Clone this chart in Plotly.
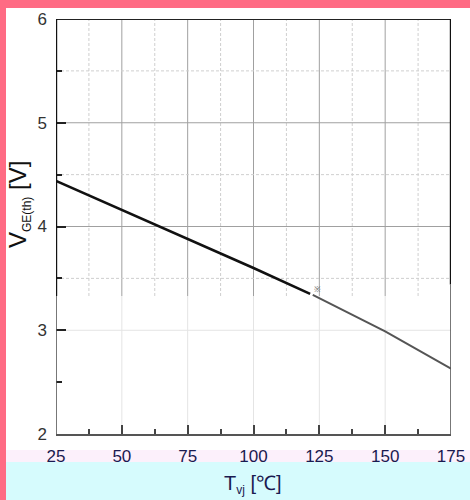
import plotly.graph_objects as go

# ---- data ----
temp_black = [25, 50, 75, 100, 121.5]
vge_black = [4.44, 4.16, 3.88, 3.60, 3.35]
temp_gray = [122.5, 150, 175]
vge_gray = [3.34, 2.99, 2.63]

x_major = [50, 75, 100, 125, 150]
x_minor = [37.5, 62.5, 87.5, 112.5, 137.5, 162.5]
y_major_upper = [4, 5]
y_major_lower = [3]
y_minor_upper = [3.5, 4.5, 5.5]
split_v = 3.33

W, H = 470, 500
L, R, T, B = 56, 19, 19, 66
pw, ph = W - L - R, H - T - B


def px_x(p):
    return (p - L) / pw


def px_y(p):
    return (H - B - p) / ph


fig = go.Figure()
fig.add_trace(go.Scatter(x=temp_black, y=vge_black, mode="lines",
                         line=dict(color="#111111", width=2.6), showlegend=False))
fig.add_trace(go.Scatter(x=temp_gray, y=vge_gray, mode="lines",
                         line=dict(color="#555555", width=2), showlegend=False))

shapes = []
# background bands
shapes.append(dict(type="rect", xref="paper", yref="paper", x0=px_x(0), x1=px_x(W),
                   y0=px_y(0), y1=px_y(8), fillcolor="#FF6B84", line_width=0, layer="below"))
shapes.append(dict(type="rect", xref="paper", yref="paper", x0=px_x(0), x1=px_x(6),
                   y0=px_y(0), y1=px_y(H), fillcolor="#FF6B84", line_width=0, layer="below"))
shapes.append(dict(type="rect", xref="paper", yref="paper", x0=px_x(6), x1=px_x(W),
                   y0=px_y(450), y1=px_y(462), fillcolor="#FCF0FB", line_width=0, layer="below"))
shapes.append(dict(type="rect", xref="paper", yref="paper", x0=px_x(6), x1=px_x(W),
                   y0=px_y(462), y1=px_y(H), fillcolor="#D6FBFD", line_width=0, layer="below"))

# grid lines
for xv in x_major:
    shapes.append(dict(type="line", xref="x", yref="y", x0=xv, x1=xv, y0=2, y1=split_v,
                       line=dict(color="#E4E4E4", width=1), layer="below"))
    shapes.append(dict(type="line", xref="x", yref="y", x0=xv, x1=xv, y0=split_v, y1=6,
                       line=dict(color="#A0A0A0", width=1), layer="below"))
for xv in x_minor:
    shapes.append(dict(type="line", xref="x", yref="y", x0=xv, x1=xv, y0=split_v, y1=6,
                       line=dict(color="#CFCFCF", width=1, dash="3px,2px"), layer="below"))
for yv in y_major_upper:
    shapes.append(dict(type="line", xref="x", yref="y", x0=25, x1=175, y0=yv, y1=yv,
                       line=dict(color="#A0A0A0", width=1), layer="below"))
for yv in y_major_lower:
    shapes.append(dict(type="line", xref="x", yref="y", x0=25, x1=175, y0=yv, y1=yv,
                       line=dict(color="#E4E4E4", width=1), layer="below"))
for yv in y_minor_upper:
    shapes.append(dict(type="line", xref="x", yref="y", x0=25, x1=175, y0=yv, y1=yv,
                       line=dict(color="#CFCFCF", width=1, dash="3px,2px"), layer="below"))

# frame
shapes.append(dict(type="line", xref="x", yref="y", x0=25, x1=175, y0=6, y1=6,
                   line=dict(color="#222222", width=2.2)))
shapes.append(dict(type="line", xref="x", yref="y", x0=25, x1=25, y0=split_v, y1=6,
                   line=dict(color="#111111", width=2.4)))
shapes.append(dict(type="line", xref="x", yref="y", x0=25, x1=25, y0=2, y1=split_v,
                   line=dict(color="#555555", width=1.6)))
shapes.append(dict(type="line", xref="x", yref="y", x0=175, x1=175, y0=3.44, y1=6,
                   line=dict(color="#111111", width=2.4)))
shapes.append(dict(type="line", xref="x", yref="y", x0=175, x1=175, y0=2, y1=3.44,
                   line=dict(color="#555555", width=1.6)))

annotations = [
    dict(text="V<sub><span style='font-size:12px'>GE(th)</span></sub> [V]",
         xref="paper", yref="paper",
         x=px_x(19), y=px_y(205), textangle=-90, showarrow=False,
         font=dict(family="Liberation Sans, Arial", size=24, color="#111111"),
         xanchor="center", yanchor="middle"),
    dict(text="T<sub><span style='font-size:12px'>vj</span></sub> [℃]",
         xref="paper", yref="paper",
         x=px_x(253), y=px_y(484), showarrow=False,
         font=dict(family="Liberation Sans, Arial", size=20, color="#1A1A50"),
         xanchor="center", yanchor="middle"),
    dict(text="※", xref="x", yref="y", x=124.2, y=3.40, showarrow=False,
         font=dict(size=8, color="#666666")),
]

fig.update_layout(
    width=W, height=H,
    margin=dict(l=L, r=R, t=T, b=B, pad=0, autoexpand=False),
    paper_bgcolor="white", plot_bgcolor="white",
    shapes=shapes, annotations=annotations,
    xaxis=dict(range=[25, 175], tick0=25, dtick=25, showgrid=False, zeroline=False,
               automargin=False,
               showline=True, linecolor="#555555", linewidth=2,
               ticks="inside", ticklen=9, tickwidth=1.5, tickcolor="#444444",
               minor=dict(ticks="inside", ticklen=5, dtick=12.5, tick0=25,
                          tickcolor="#444444", tickwidth=1.5, showgrid=False),
               tickfont=dict(family="Liberation Sans, Arial", size=17, color="#1A1A50"),
               ticklabelstandoff=6),
    yaxis=dict(range=[2, 6], dtick=1, showgrid=False, zeroline=False, showline=False,
               automargin=False,
               ticks="inside", ticklen=10, tickwidth=1.5, tickcolor="#222222",
               minor=dict(ticks="inside", ticklen=6, dtick=0.5, tick0=2,
                          tickcolor="#222222", tickwidth=1.5, showgrid=False),
               tickfont=dict(family="Liberation Sans, Arial", size=17, color="#333333"),
               ticklabelstandoff=8),
)

fig.write_html("out.html", config={"displayModeBar": False},
               post_script="document.body.style.margin='0';document.body.style.overflow='hidden';")
